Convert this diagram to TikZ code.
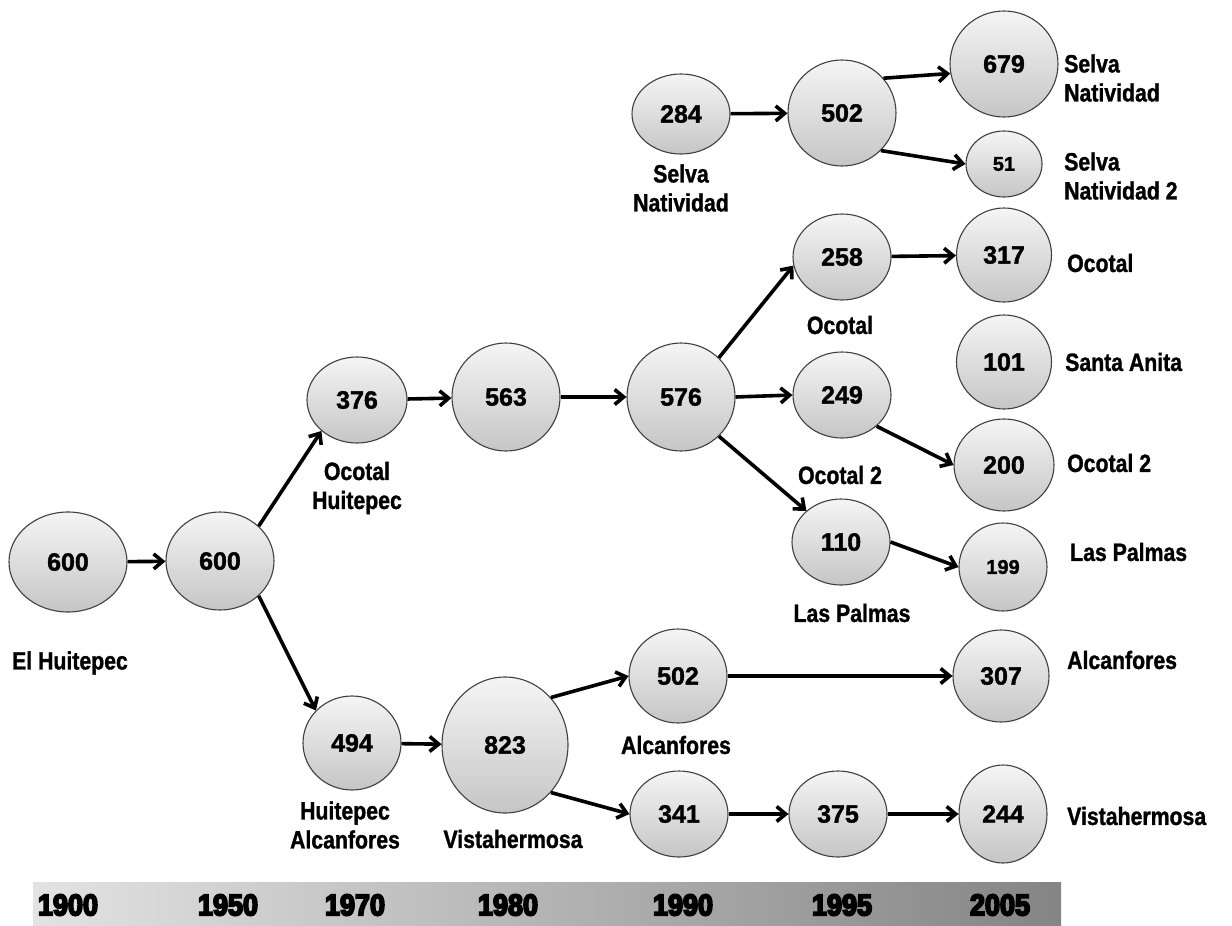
\documentclass[tikz,border=0pt]{standalone}
\usepackage{fontspec}
\setmainfont{Liberation Sans}
\newfontfamily\numfont{Liberation Sans}[UprightFont=* Bold, FakeBold=1.5]
\newfontfamily\lblfont{Liberation Sans}[UprightFont=* Bold, FakeStretch=0.85, FakeBold=1.2]
\newfontfamily\yrfont{Liberation Sans}[UprightFont=* Bold, FakeStretch=0.9, FakeBold=6]
\usetikzlibrary{shapes.geometric,arrows.meta}
\begin{document}
\begin{tikzpicture}[x=1pt,y=-1pt,
  bub/.style={ellipse, draw=black!75, line width=1.1pt, top color=gray!8, bottom color=gray!45,
    inner sep=0pt, font=\numfont\fontsize{25}{28}\selectfont},
  smallnum/.style={font=\numfont\fontsize{20}{24}\selectfont},
  arr/.style={line width=3.6pt, -{Straight Barb[length=9pt,width=15pt]}},
  lbl/.style={inner sep=0pt, align=center, font=\lblfont\fontsize{25}{29}\selectfont},
  rlbl/.style={inner sep=0pt, anchor=west, align=left, font=\lblfont\fontsize{25}{29}\selectfont},
  yr/.style={inner sep=0pt, font=\yrfont\fontsize{30}{32}\selectfont}]
\useasboundingbox (0,0) rectangle (1232,926);
% timeline bar
\fill[left color=gray!22, right color=gray!96] (33,882) rectangle (1061,926);
\node[yr] (y1900) at (68,905) {1900};
\node[yr] (y1950) at (228,905) {1950};
\node[yr] (y1970) at (355,905) {1970};
\node[yr] (y1980) at (508,905) {1980};
\node[yr] (y1990) at (683,905) {1990};
\node[yr] (y1995) at (842,905) {1995};
\node[yr] (y2005) at (1000,905) {2005};
% nodes
\node[bub, minimum width=118pt, minimum height=100pt] (a600) at (68,562) {600};
\node[bub, minimum width=108pt, minimum height=98pt] (b600) at (220,561) {600};
\node[bub, minimum width=100pt, minimum height=86pt] (n376) at (357,400) {376};
\node[bub, minimum width=108pt, minimum height=108pt] (n563) at (506,397) {563};
\node[bub, minimum width=108pt, minimum height=108pt] (n576) at (681,397) {576};
\node[bub, minimum width=98pt, minimum height=94pt] (n494) at (352,743) {494};
\node[bub, minimum width=126pt, minimum height=136pt] (n823) at (505,745) {823};
\node[bub, minimum width=98pt, minimum height=94pt] (n502b) at (678,676) {502};
\node[bub, minimum width=96pt, minimum height=92pt] (n307) at (1001,676) {307};
\node[bub, minimum width=98pt, minimum height=86pt] (n341) at (679,814) {341};
\node[bub, minimum width=98pt, minimum height=86pt] (n375) at (838,814) {375};
\node[bub, minimum width=88pt, minimum height=98pt] (n244) at (1003,814) {244};
\node[bub, minimum width=98pt, minimum height=86pt] (n258) at (842,257) {258};
\node[bub, minimum width=98pt, minimum height=86pt] (n249) at (842,395) {249};
\node[bub, minimum width=98pt, minimum height=86pt] (n110) at (841,542) {110};
\node[bub, minimum width=95pt, minimum height=94pt] (n317) at (1004,255) {317};
\node[bub, minimum width=95pt, minimum height=94pt] (n101) at (1004,362) {101};
\node[bub, minimum width=100pt, minimum height=92pt] (n200) at (1004,465) {200};
\node[bub, smallnum, minimum width=88pt, minimum height=88pt] (n199) at (1003,567) {199};
\node[bub, minimum width=98pt, minimum height=80pt] (n284) at (681,114) {284};
\node[bub, minimum width=108pt, minimum height=106pt] (n502t) at (842,113) {502};
\node[bub, minimum width=108pt, minimum height=106pt] (n679) at (1004,64) {679};
\node[bub, smallnum, minimum width=76pt, minimum height=66pt] (n51) at (1004,164) {51};
% labels under nodes
\node[lbl] (lHuit) at (70,663) {El Huitepec};
\node[lbl] (lOcHu) at (357,488) {Ocotal\\Huitepec};
\node[lbl] (lHuAl) at (345,825) {Huitepec\\Alcanfores};
\node[lbl] (lVist) at (513,839) {Vistahermosa};
\node[lbl] (lAlc) at (676,745) {Alcanfores};
\node[lbl] (lOc) at (840,325) {Ocotal};
\node[lbl] (lOc2) at (840,475) {Ocotal 2};
\node[lbl] (lLP) at (852,613) {Las Palmas};
\node[lbl] (lSN) at (681,188) {Selva\\Natividad};
% labels at right
\node[rlbl] (rSN) at (1064,78) {Selva\\Natividad};
\node[rlbl] (rSN2) at (1064,176) {Selva\\Natividad 2};
\node[rlbl] (rOc) at (1067,263) {Ocotal};
\node[rlbl] (rSA) at (1065,362) {Santa Anita};
\node[rlbl] (rOc2) at (1067,463) {Ocotal 2};
\node[rlbl] (rLP) at (1070,552) {Las Palmas};
\node[rlbl] (rAlc) at (1067,660) {Alcanfores};
\node[rlbl] (rVist) at (1067,816) {Vistahermosa};
% connectors
\draw[arr] (a600) -- (b600);
\draw[arr] (b600.42) -- (n376.221);
\draw[arr] (b600.-42) -- (n494.138);
\draw[arr] (n376) -- (n563);
\draw[arr] (n563) -- (n576);
\draw[arr] (n576.46) -- (n258.190);
\draw[arr] (n576.east) -- (n249.west);
\draw[arr] (n576.-46) -- (n110.138);
\draw[arr] (n258) -- (n317);
\draw[arr] (n249.-42) -- (n200.west);
\draw[arr] (n110.east) -- (n199.west);
\draw[arr] (n494) -- (n823);
\draw[arr] (n823.46) -- (n502b.west);
\draw[arr] (n823.-46) -- (n341.west);
\draw[arr] (n502b) -- (n307);
\draw[arr] (n341) -- (n375);
\draw[arr] (n375) -- (n244);
\draw[arr] (n284) -- (n502t);
\draw[arr] (n502t.40) -- (n679.190);
\draw[arr] (n502t.-44) -- (n51.west);
\end{tikzpicture}
\end{document}
